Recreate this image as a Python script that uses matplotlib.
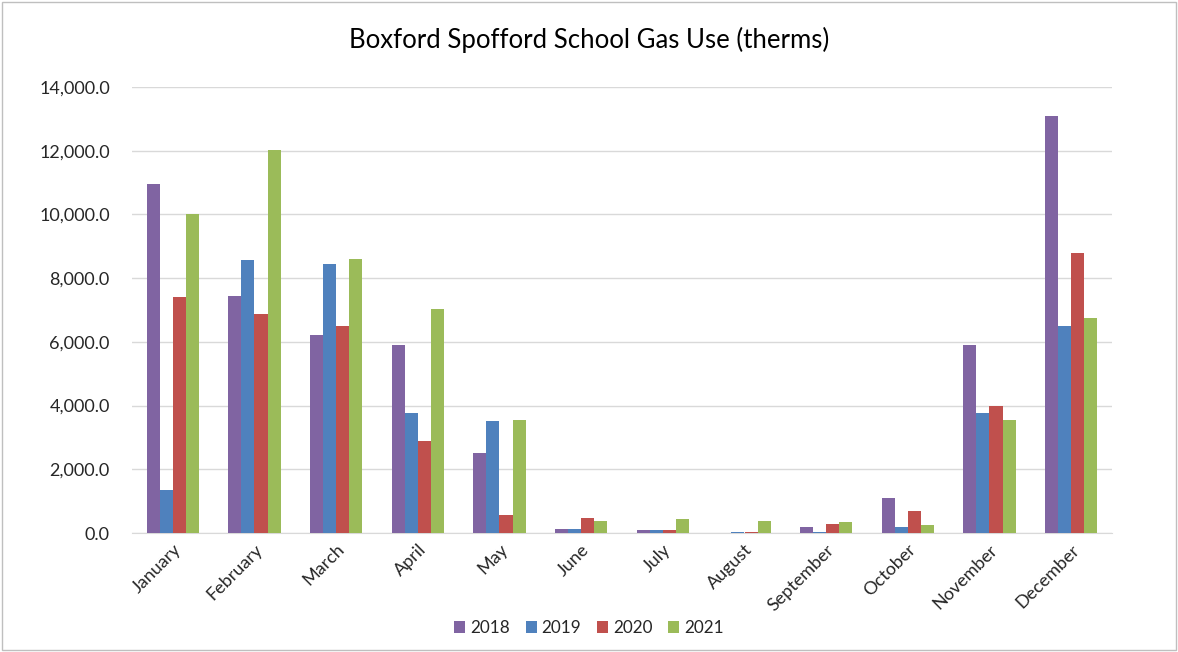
import numpy as np
import matplotlib
matplotlib.use("Agg")
import matplotlib.pyplot as plt
from matplotlib.patches import Rectangle
from matplotlib.ticker import FuncFormatter, MultipleLocator

months = ["January", "February", "March", "April", "May", "June", "July",
          "August", "September", "October", "November", "December"]
years = ["2018", "2019", "2020", "2021"]
gas_2018 = [10950, 7440, 6220, 5900, 2510, 125, 85, 0, 180, 1100, 5900, 13090]
gas_2019 = [1350, 8570, 8440, 3770, 3520, 125, 85, 40, 40, 180, 3760, 6490]
gas_2020 = [7410, 6880, 6500, 2890, 550, 470, 85, 40, 290, 690, 3980, 8780]
gas_2021 = [10010, 12020, 8600, 7030, 3550, 380, 430, 380, 335, 255, 3550, 6750]
colors = ["#8064a2", "#4f81bd", "#c0504d", "#9bbb59"]

plt.rcParams['font.family'] = ['Lato', 'DejaVu Sans']

fig = plt.figure(figsize=(11.78, 6.52), dpi=100)
ax = fig.add_axes([132/1178, (652-533)/652, (1112-132)/1178, (533-87)/652])

x = np.arange(len(months))
w = 0.16
series = [gas_2018, gas_2019, gas_2020, gas_2021]
for i, (vals, c, lab) in enumerate(zip(series, colors, years)):
    ax.bar(x + (i - 1.5) * w, vals, width=w, color=c, label=lab, zorder=3)

ax.set_xlim(-0.5, len(months) - 0.5)
ax.set_ylim(0, 14000)
ax.yaxis.set_major_locator(MultipleLocator(2000))
ax.yaxis.set_major_formatter(FuncFormatter(lambda v, p: f"{v:,.1f}"))
ax.grid(axis='y', color='#d9d9d9', linewidth=1, zorder=0)
for s in ['top', 'right', 'left']:
    ax.spines[s].set_visible(False)
ax.spines['bottom'].set_color('#d9d9d9')
ax.tick_params(axis='y', length=0, labelsize=13, colors='#262626', pad=16)
ax.tick_params(axis='x', length=0, labelsize=13, colors='#262626', pad=6)
ax.set_xticks(x)
ax.set_xticklabels(months, rotation=45, ha='right', rotation_mode='anchor')

fig.text(0.5, 1 - 40/652, "Boxford Spofford School Gas Use (therms)",
         ha='center', va='center', fontsize=18.5, color='#000000')

leg = fig.legend(loc='center', bbox_to_anchor=(0.5, 1 - 628/652), ncol=4,
                 frameon=False, fontsize=12.3, handlelength=0.65, handleheight=0.65,
                 columnspacing=0.9, handletextpad=0.3)
for t in leg.get_texts():
    t.set_color('#262626')

fig.patches.append(Rectangle((0.002, 0.003), 0.996, 0.994, transform=fig.transFigure,
                             fill=False, edgecolor='#bfbfbf', linewidth=1))

fig.savefig("out.png", dpi=100)
